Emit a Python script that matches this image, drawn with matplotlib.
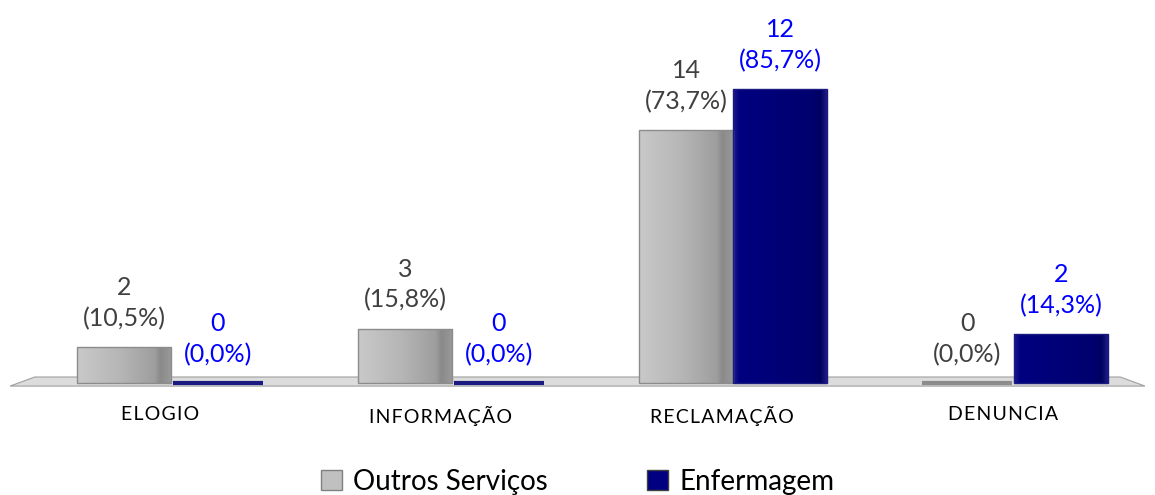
import numpy as np
import matplotlib.pyplot as plt
from matplotlib.colors import LinearSegmentedColormap
from matplotlib.patches import Polygon, Patch

#
#   Data
#

categories = ["ELOGIO", "INFORMAÇÃO", "RECLAMAÇÃO", "DENUNCIA"]
outros_n = [2, 3, 14, 0]
outros_pct = [10.5, 15.8, 73.7, 0.0]
enf_n = [0, 0, 12, 2]
enf_pct = [0.0, 0.0, 85.7, 14.3]
series_names = ["Outros Serviços", "Enfermagem"]

#
#   Style
#

plt.rcParams['font.family'] = ['Lato', 'DejaVu Sans']

gray_cmap = LinearSegmentedColormap.from_list(
    "gray3d", [(0, "#c9c9c9"), (0.45, "#b6b6b6"), (0.82, "#9e9e9e"),
               (0.88, "#8a8a8a"), (1, "#9a9a9a")])
navy_cmap = LinearSegmentedColormap.from_list(
    "navy3d", [(0, "#1c1c8c"), (0.07, "#000080"), (0.85, "#00006e"),
               (0.92, "#000060"), (1, "#20208a")])


def shaded_bar(ax, x, h, w, cmap, edge):
    if h <= 0:
        # flat bar drawn as a thick line at the floor
        ax.bar(x, 0, w * 0.95, color=edge, edgecolor=edge, lw=3, zorder=3)
        return
    b = ax.bar(x, h, w, color="none", edgecolor=edge, lw=1, zorder=3)[0]
    grad = np.linspace(0, 1, 256).reshape(1, -1)
    im = ax.imshow(grad, cmap=cmap, extent=[x - w / 2, x + w / 2, 0, h],
                   aspect="auto", zorder=2.5)
    im.set_clip_path(b)


def spaced(s):
    # the category labels are drawn with a little letter spacing
    return "\u200a".join(s)


#
#   Plot
#

fig = plt.figure(figsize=(11.55, 4.95), dpi=100)
ax = fig.add_axes([10 / 1155, 100 / 495, 1135 / 1155, 395 / 495])

xmin, xmax = -0.573, 3.466
ymin, ymax = -3.5, 111.7

# floor
floor = Polygon([(xmin, -0.9), (-0.485, 1.75), (3.378, 1.75), (xmax, -0.9)],
                closed=True, facecolor="#dcdcdc", edgecolor="#a0a0a0",
                lw=0.8, zorder=1)
ax.add_patch(floor)

w = 0.335
x = np.arange(len(categories))
for i in range(len(categories)):
    shaded_bar(ax, x[i] - 0.167, outros_pct[i], w, gray_cmap, "#8c8c8c")
    shaded_bar(ax, x[i] + 0.167, enf_pct[i], w, navy_cmap, "#1a1a80")

    lbl = f"{outros_n[i]}\n({outros_pct[i]:.1f}%)".replace(".", ",")
    ax.text(x[i] - 0.167, outros_pct[i] + 5.0, lbl, ha="center", va="bottom",
            fontsize=18, color="#404040", linespacing=1.4)
    lbl = f"{enf_n[i]}\n({enf_pct[i]:.1f}%)".replace(".", ",")
    ax.text(x[i] + 0.167, enf_pct[i] + 5.0, lbl, ha="center", va="bottom",
            fontsize=18, color="#0000ff", linespacing=1.4)

ax.set_xlim(xmin, xmax)
ax.set_ylim(ymin, ymax)
ax.set_xticks(x - 0.04)
ax.set_xticklabels([spaced(c) for c in categories], fontsize=14,
                   color="#000000")
ax.tick_params(axis="x", length=0, pad=8)
ax.set_yticks([])
for s in ax.spines.values():
    s.set_visible(False)
ax.patch.set_alpha(0)

handles = [Patch(facecolor="#c0c0c0", edgecolor="#808080"),
           Patch(facecolor="#000080", edgecolor="#404040")]
fig.legend(handles, series_names, loc="lower center",
           bbox_to_anchor=(0.5, -0.05), ncol=2, frameon=False, fontsize=20,
           handlelength=0.75, handleheight=0.75, handletextpad=0.4,
           columnspacing=3.6)

fig.savefig("out.png", dpi=100)
